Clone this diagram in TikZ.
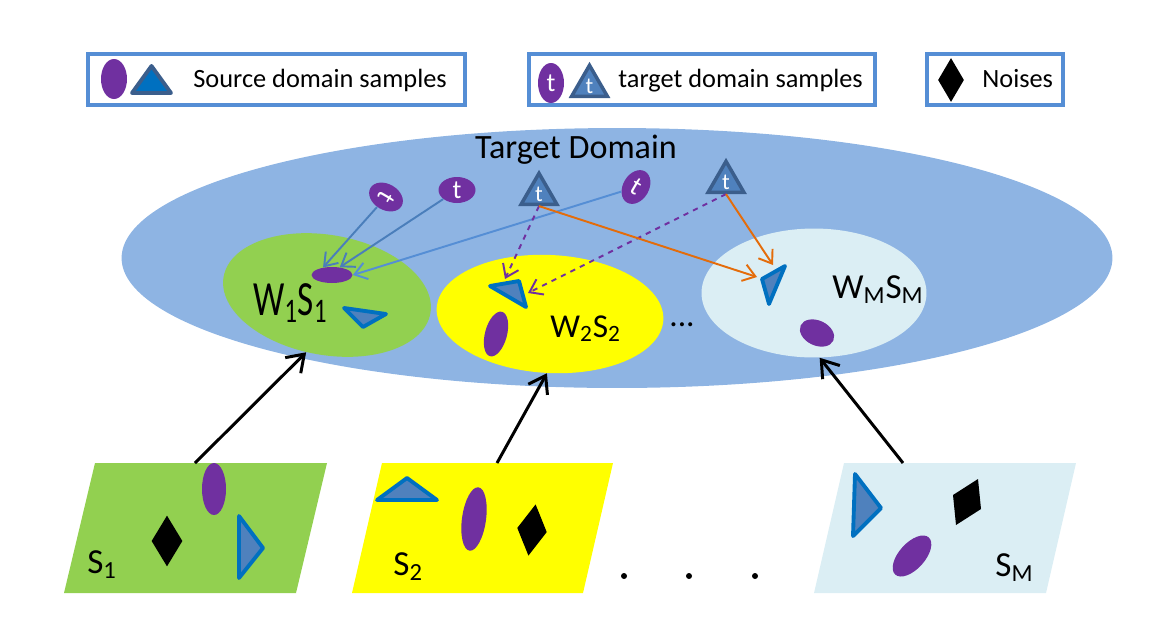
\documentclass[tikz,border=0pt]{standalone}
\usepackage{fontspec}
\usepackage{graphicx}
\setmainfont{Carlito}
\usetikzlibrary{shapes.geometric,arrows.meta}
\definecolor{legblue}{HTML}{558ED5}
\definecolor{domblue}{HTML}{8EB4E3}
\definecolor{wgreen}{HTML}{92D050}
\definecolor{wyellow}{HTML}{FFFF00}
\definecolor{wcyan}{HTML}{DBEEF4}
\definecolor{smppurple}{HTML}{7030A0}
\definecolor{trifill}{HTML}{4F81BD}
\definecolor{triedge}{HTML}{0070C0}
\definecolor{tedge}{HTML}{3B5E8C}
\definecolor{arrblue}{HTML}{4A7EBB}
\definecolor{arrorange}{HTML}{E46C0A}
\begin{document}
\begin{tikzpicture}[x=0.02cm, y=-0.02cm,
    >={Straight Barb[length=2.4mm,width=3.4mm]},
    legbox/.style={draw=legblue, line width=2.4pt, minimum height=1.02cm, inner sep=0},
    legtext/.style={anchor=base west, inner sep=0, font=\fontsize{15}{18}\selectfont},
    lbl/.style={anchor=base west, inner sep=0, font=\fontsize{20}{24}\selectfont},
    smp/.style={ellipse, fill=smppurple, inner sep=0},
    tsmp/.style={ellipse, fill=smppurple, inner sep=0, text=white, font=\fontsize{15}{17}\selectfont},
    ttri/.style={regular polygon, regular polygon sides=3, fill=trifill, draw=tedge, line width=2pt,
        inner sep=0, text=white, font=\fontsize{13}{15}\selectfont},
    srctri/.style={fill=trifill, draw=triedge, line width=2.2pt, line join=round},
    noise/.style={diamond, fill=black, inner sep=0},
    tarrow/.style={->, draw=arrblue, line width=1.1pt},
    darrow/.style={->, draw=smppurple, line width=1.1pt, dashed},
    oarrow/.style={->, draw=arrorange, line width=1.1pt},
    blkarrow/.style={-{Straight Barb[length=3.2mm,width=4.4mm]}, line width=1.7pt}]
    \useasboundingbox (0,0) rectangle (1151,626);

    % legend
    \node[legbox, minimum width=7.54cm] (legsrc) at (276.5,79.5) {};
    \node[legbox, minimum width=6.92cm] (legtgt) at (702,79.5) {};
    \node[legbox, minimum width=2.72cm] (legnoise) at (995,79.5) {};
    \node[smp, minimum width=0.52cm, minimum height=0.8cm] (legell) at (114,79) {};
    \draw[srctri, fill=triedge, draw=tedge] (132,93) -- (151.5,66) -- (171,93) -- cycle;
    \node[legtext] (legsrctxt) at (193,87) {Source domain samples};
    \node[tsmp, minimum width=0.52cm, minimum height=0.8cm] (legtell) at (551,83) {t};
    \node[ttri, minimum size=0.78cm] (legttri) at (589.5,86) {t};
    \node[legtext] (legtgttxt) at (618,87) {target domain samples};
    \node[noise, minimum width=0.52cm, minimum height=0.88cm] (legdia) at (951,80) {};
    \node[legtext] (legnoisetxt) at (982,87) {Noises};

    % target domain
    \node[ellipse, fill=domblue, minimum width=19.82cm, minimum height=5.2cm] (dom) at (617,258) {};
    \node[anchor=base, inner sep=0, font=\fontsize{19.4}{23}\selectfont] (domlbl) at (576,158) {Target Domain};
    \node[ellipse, fill=wgreen, minimum width=4.2cm, minimum height=2.4cm, rotate=-10] (w1) at (327,295) {};
    \node[ellipse, fill=wyellow, minimum width=4.54cm, minimum height=2.36cm, rotate=-3] (w2) at (550,314) {};
    \node[ellipse, fill=wcyan, minimum width=4.5cm, minimum height=2.58cm] (wm) at (814,293) {};
    \node[lbl] (w1lbl) at (253,315) {\scalebox{1}[1.4]{W\textsubscript{1}S\textsubscript{1}}};
    \node[lbl, font=\fontsize{19}{23}\selectfont] (w2lbl) at (550,337) {W\textsubscript{2}S\textsubscript{2}};
    \node[lbl] (wmlbl) at (832,298) {W\textsubscript{M}S\textsubscript{M}};
    \node[lbl, font=\fontsize{19}{23}\selectfont] (wdots) at (669,326) {...};

    % mapped source samples
    \node[smp, minimum width=0.82cm, minimum height=0.32cm] (p1) at (332,275) {};
    \draw[srctri] (344,308) -- (386,314) -- (363,327) -- cycle;
    \node[smp, minimum width=0.44cm, minimum height=0.92cm, rotate=-15] (p2) at (496,334) {};
    \draw[srctri] (490,286) -- (519,281) -- (526,307) -- cycle;
    \node[smp, minimum width=0.72cm, minimum height=0.5cm, rotate=-25] (pm) at (817,333) {};
    \draw[srctri] (762,279) -- (785,266) -- (769,304) -- cycle;
    \coordinate (w2hitA) at (505,279);
    \coordinate (w2hitB) at (528,293);
    \coordinate (wmhitA) at (757,277);
    \coordinate (wmhitB) at (773,265);

    % target samples
    \node[tsmp, minimum width=0.52cm, minimum height=0.72cm, rotate=-120] (t1) at (386,197) {t};
    \node[tsmp, minimum width=0.74cm, minimum height=0.52cm] (t2) at (457,190) {t};
    \node[ttri, minimum size=0.64cm] (ta) at (539,194) {t};
    \node[tsmp, minimum width=0.52cm, minimum height=0.72cm, rotate=-30] (t4) at (636,187) {t};
    \node[ttri, minimum size=0.69cm] (tb) at (726,182) {t};

    \draw[tarrow] (t1) -- (p1.140);
    \draw[tarrow] (t2) -- (p1.45);
    \draw[tarrow, draw=legblue] (t4) -- (p1.0);
    \draw[darrow] (ta.south) -- (w2hitA);
    \draw[darrow] (tb.south) -- (w2hitB);
    \draw[oarrow] (ta.south) -- (wmhitA);
    \draw[oarrow] (tb.south) -- (wmhitB);

    % source domains
    \fill[wgreen] (95,463) -- (327,463) -- (296,593) -- (64,593) -- cycle;
    \fill[wyellow] (382,463) -- (613,463) -- (583,593) -- (352,593) -- cycle;
    \fill[wcyan] (844,463) -- (1076,463) -- (1046,593) -- (814,593) -- cycle;
    \coordinate (s1top) at (195,463);
    \coordinate (s2top) at (497,463);
    \coordinate (smtop) at (903,463);

    \node[smp, minimum width=0.48cm, minimum height=1.04cm] (s1p) at (214,489) {};
    \node[noise, minimum width=0.62cm, minimum height=1.02cm] (s1n) at (167,541) {};
    \draw[srctri] (239,516) -- (263,548) -- (239,578) -- cycle;
    \node[lbl] (s1lbl) at (87,573) {S\textsubscript{1}};

    \draw[srctri] (377,500) -- (407,478) -- (437,500) -- cycle;
    \node[smp, minimum width=0.48cm, minimum height=1.28cm, rotate=-8] (s2p) at (474,519) {};
    \node[noise, minimum width=0.6cm, minimum height=1.04cm, rotate=-8] (s2n) at (532,530) {};
    \node[lbl] (s2lbl) at (393,575) {S\textsubscript{2}};

    \draw[srctri] (855,474) -- (881,508) -- (853,536) -- cycle;
    \fill (978,479) -- (981,509) -- (956,525) -- (953,495) -- cycle;
    \node[smp, minimum width=1.0cm, minimum height=0.52cm, rotate=48] (smpm) at (912,556) {};
    \node[lbl] (smlbl) at (995,576) {S\textsubscript{M}};

    \foreach \x in {624,689,755}
        \fill (\x,576) circle (0.06cm);

    \draw[blkarrow] (s1top) -- (w1.-100);
    \draw[blkarrow] (s2top) -- (w2.south);
    \draw[blkarrow] (smtop) -- (wm.-85);
\end{tikzpicture}
\end{document}
